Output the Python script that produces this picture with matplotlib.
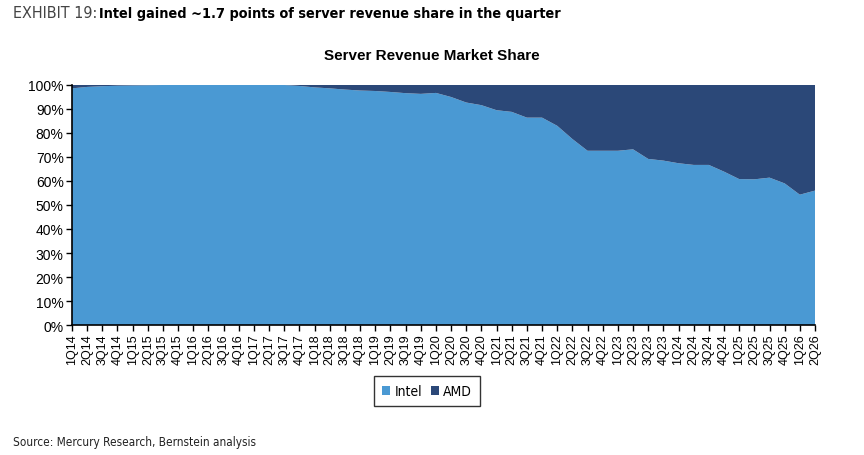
import matplotlib
matplotlib.use("Agg")
import matplotlib.pyplot as plt
from matplotlib.patches import Patch
import numpy as np

quarters = [f"{q}Q{y:02d}" for y in range(14, 27) for q in range(1, 5)][:50]
intel = [98.6, 99.2, 99.5, 99.7, 99.8, 99.9, 100, 100, 100, 100,
         100, 100, 100, 100, 100, 99.6, 99.0, 98.6, 98.1, 97.7,
         97.5, 97.1, 96.6, 96.3, 96.7, 95.0, 92.7, 91.6, 89.5, 88.8,
         86.4, 86.4, 83.0, 77.5, 72.6, 72.6, 72.6, 73.2, 69.2, 68.5,
         67.4, 66.7, 66.7, 63.9, 60.8, 60.7, 61.4, 59.0, 54.3, 56.0]
amd = [100 - v for v in intel]

intel_color = "#4A99D3"
amd_color = "#2B4878"

fig = plt.figure(figsize=(8.64, 4.56), dpi=100)
ax = fig.add_axes([72/864, 1-326/456, (815-72)/864, (326-86)/456])

x = np.arange(len(quarters))
ax.stackplot(x, intel, amd, colors=[intel_color, amd_color], linewidth=0)
ax.set_xlim(0, len(quarters)-1)
ax.set_ylim(0, 100)
ax.set_yticks(range(0, 101, 10))
ax.set_yticklabels([f"{v}%" for v in range(0, 101, 10)], fontsize=10, family="Liberation Sans")
ax.set_xticks(x)
ax.set_xticklabels(quarters, rotation=90, fontsize=9, family="Liberation Sans")
for s in ["top", "right"]:
    ax.spines[s].set_visible(False)
for s in ["left", "bottom"]:
    ax.spines[s].set_color("black")
    ax.spines[s].set_linewidth(1.2)
ax.tick_params(axis="both", length=4, width=1, color="black", pad=2)

fig.text(432/864, 1-56/456, "Server Revenue Market Share", ha="center", va="center",
         fontsize=11, fontweight="bold", family="Liberation Sans")

t1 = fig.text(13/864, 1-14/456, "EXHIBIT 19:", ha="left", va="center",
              fontsize=11.5, color="#444444", family="DejaVu Sans", fontstretch="condensed")
fig.canvas.draw()
bb = t1.get_window_extent()
fig.text((bb.x1 + 2)/864, 1-14/456, "Intel gained ~1.7 points of server revenue share in the quarter",
         ha="left", va="center", fontsize=10.4, fontweight="bold", color="black",
         family="DejaVu Sans", fontstretch="condensed")

fig.text(13/864, 1-443/456, "Source: Mercury Research, Bernstein analysis", ha="left", va="center",
         fontsize=8.5, color="#222222", family="DejaVu Sans", fontstretch="condensed")

handles = [Patch(facecolor=intel_color, label="Intel"), Patch(facecolor=amd_color, label="AMD")]
leg = fig.legend(handles=handles, loc="center", bbox_to_anchor=(427/864, 1-392/456), ncol=2,
                 frameon=True, fancybox=False, edgecolor="black", handlelength=0.6, handleheight=0.6,
                 handletextpad=0.3, columnspacing=0.6, borderpad=0.55,
                 prop={"family": "DejaVu Sans", "stretch": "condensed", "size": 10})
leg.get_frame().set_linewidth(1.0)

fig.savefig("out.png", dpi=100)
